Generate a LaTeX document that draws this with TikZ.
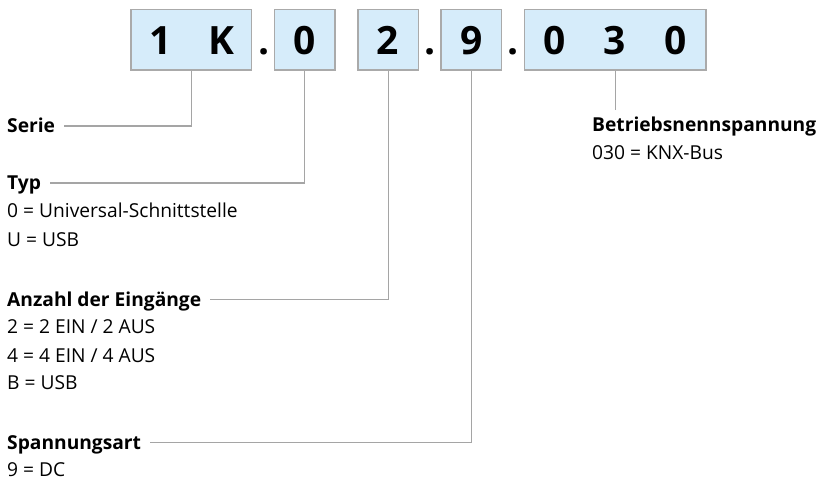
\documentclass[tikz,border=0pt]{standalone}
\usepackage{fontspec}
\setmainfont{Open Sans}
\usetikzlibrary{positioning}
\definecolor{cellblue}{RGB}{214,236,250}
\definecolor{cellgray}{RGB}{170,170,170}
\definecolor{leadgray}{RGB}{165,165,165}

\begin{document}
\begin{tikzpicture}[
    x=1pt, y=-1pt,
    every node/.style={inner sep=0pt},
    codebox/.style={
        rectangle,
        draw=cellgray,
        fill=cellblue,
        line width=1.2pt,
        minimum width=60.5pt,
        minimum height=60.5pt
    },
    digit/.style={anchor=base, font=\fontsize{39}{42}\selectfont\bfseries},
    head/.style={anchor=base west, text height=13.6pt, text depth=0pt,
        font=\fontsize{19.2}{22}\selectfont\bfseries},
    desc/.style={anchor=base west, font=\fontsize{19.2}{22}\selectfont},
    lead/.style={draw=leadgray, line width=1.2pt}
]
\useasboundingbox (0,0) rectangle (817,478);

% ==================== Top: order code boxes ====================
\node[codebox, minimum width=120.7pt] (kserie) at (191.3,39.75) {};
\node[codebox] (ktyp)  at (304.7,39.75) {};
\node[codebox] (keing) at (388.3,39.75) {};
\node[codebox] (kspan) at (471.3,39.75) {};
\node[codebox, minimum width=181.7pt] (kbetr) at (615.2,39.75) {};

\foreach \d/\x [count=\i] in {1/161,K/221,0/304.5,2/388,9/471.5,0/554.5,3/615,0/675.5} {
  \node[digit] (d\i) at (\x,55) {\d};
}
\foreach \x [count=\i] in {264.3,430,513.3} {
  \node[digit] (dot\i) at (\x,55) {.};
}

% ==================== Left: explanations ====================
\node[head] (serie) at (7,132.8) {Serie};

\node[head] (typ) at (7,189.8) {Typ};
\node[desc] (typ1) at (7,217.8) {0 = Universal-Schnittstelle};
\node[desc] (typ2) at (7,246.8) {U = USB};

\node[head] (eing) at (7,306.5) {Anzahl der Eingänge};
\node[desc] (eing1) at (7,333.8) {2 = 2 EIN / 2 AUS};
\node[desc] (eing2) at (7,362.8) {4 = 4 EIN / 4 AUS};
\node[desc] (eing3) at (7,390) {B = USB};

\node[head] (span) at (7,449.5) {Spannungsart};
\node[desc] (span1) at (7,476.5) {9 = DC};

% Right: rated voltage
\node[head] (betr) at (592,131.8) {Betriebsnennspannung};
\node[desc] (betr1) at (592,159.8) {030 = KNX-Bus};

% Leader lines
\draw[lead, shorten >=9pt] (kserie.south) |- (serie.east);
\draw[lead, shorten >=9pt] (ktyp.south) |- (typ.east);
\draw[lead, shorten >=9pt] (keing.south) |- (eing.east);
\draw[lead, shorten >=9pt] (kspan.south) |- (span.east);
\draw[lead, shorten >=8pt] (kbetr.south) -- (kbetr.south |- betr.north);

\end{tikzpicture}
\end{document}
